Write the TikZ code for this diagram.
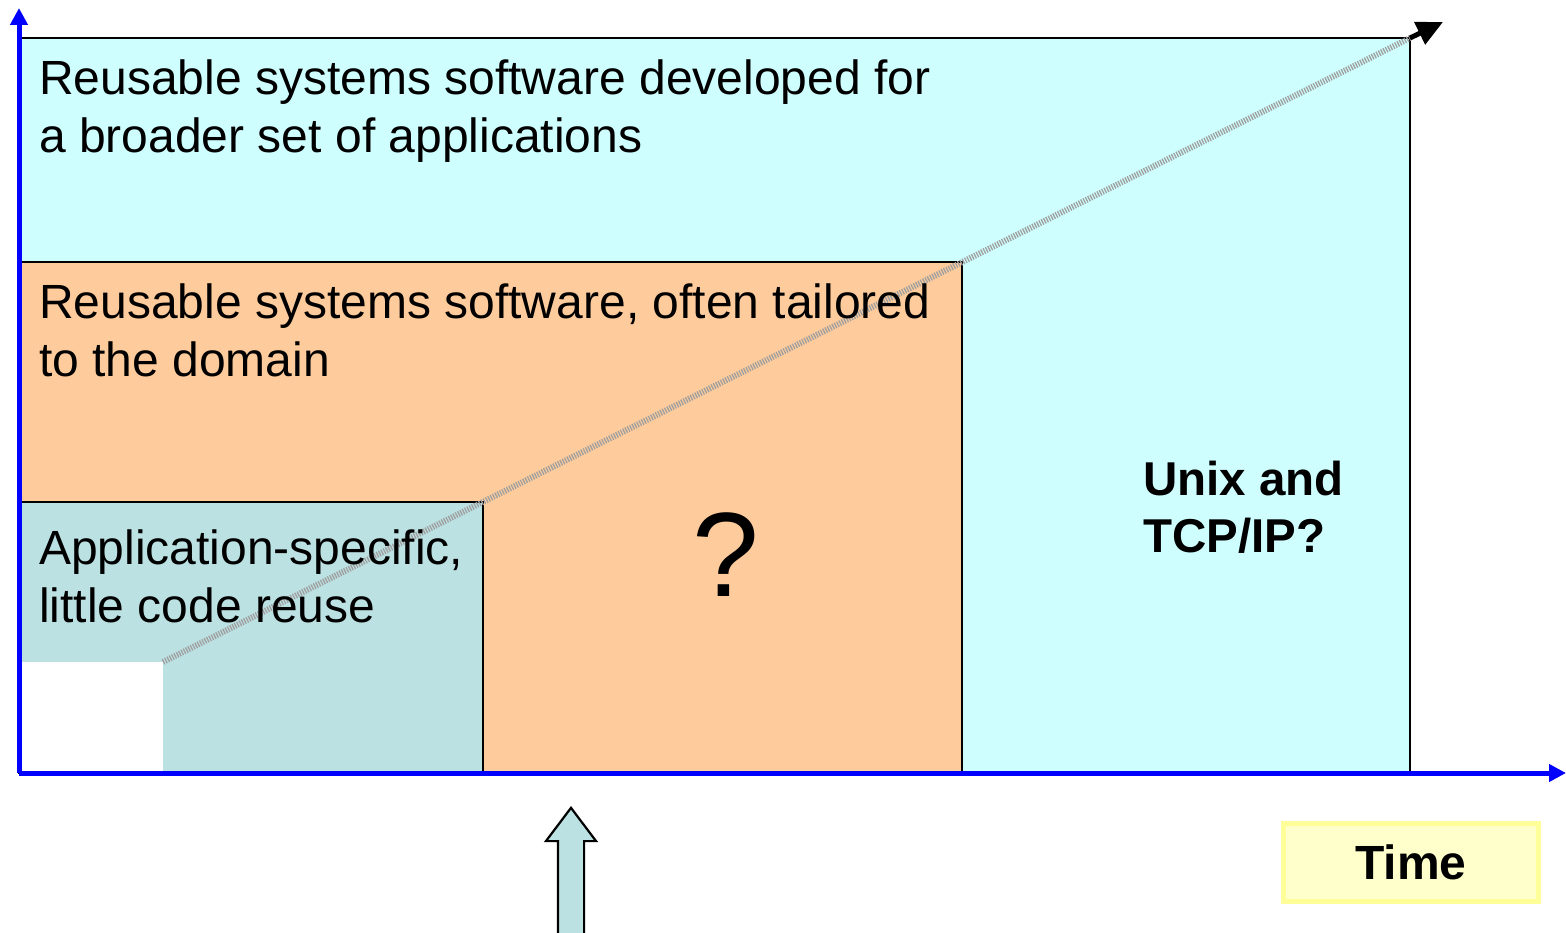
\documentclass[tikz,border=0pt]{standalone}
\usepackage{fontspec}
\setmainfont{Liberation Sans}
\usetikzlibrary{arrows.meta,shapes.arrows}
\definecolor{skyfill}{HTML}{CFFEFF}
\definecolor{peachfill}{HTML}{FECC9C}
\definecolor{tealfill}{HTML}{BCE1E3}
\definecolor{axisblue}{HTML}{0000FF}
\definecolor{timefill}{HTML}{FFFFCC}
\definecolor{timeedge}{HTML}{FFFF99}
\tikzset{
  era/.style={draw=black, line width=2.4pt},
  label/.style={anchor=base west, inner sep=0pt, align=left,
    font=\fontsize{48}{58}\selectfont},
  axis/.style={draw=axisblue, line width=5pt, -{Triangle[length=17pt,width=17pt]}},
  trend/.style={draw=gray!75, line width=6pt, dash pattern=on 1.3pt off 1.3pt},
}
\begin{document}
\begin{tikzpicture}[x=1pt,y=-1pt]
\useasboundingbox (0,0) rectangle (1566,933);

% three nested eras of reuse
\draw[era, fill=skyfill] (19,38) rectangle (1410,773);
\draw[era, fill=peachfill] (19,262) rectangle (962,773);
\draw[era, fill=tealfill] (19,502) rectangle (483,773);
\fill[white] (21,662) rectangle (163,771);

% growth of reuse over time
\coordinate (start) at (163,662);
\coordinate (mid) at (1410,38);
\coordinate (tip) at (1443,22);
\draw[trend] (start) -- (mid);
\draw[line width=5pt, -{Triangle[length=26pt,width=24pt]}] (mid) -- (tip);

% axes
\coordinate (origin) at (19,773);
\coordinate (ytop) at (19,8);
\coordinate (xend) at (1566,773);
\draw[axis] (origin) -- (ytop);
\draw[axis] (origin) -- (xend);

% labels
\node[label] (broad) at (39,153) {Reusable systems software developed for\\a broader set of applications};
\node[label] (domain) at (39,376) {Reusable systems software, often tailored\\to the domain};
\node[label] (app) at (39,622) {Application-specific,\\little code reuse};
\node[anchor=base, inner sep=0pt, font=\fontsize{120}{120}\selectfont] (q) at (726,596) {?};
\node[anchor=base west, inner sep=0pt, align=left, font=\fontsize{47.5}{57}\selectfont\bfseries] (unix) at (1143,552) {Unix and\\TCP/IP?};

% time legend
\node[draw=timeedge, line width=5pt, fill=timefill, minimum width=255pt, minimum height=78pt,
  font=\fontsize{48}{48}\selectfont\bfseries] (time) at (1411,862) {Time};

% pointer to the middle era
\node[single arrow, draw=black, line width=2.2pt, fill=tealfill, shape border rotate=90,
  inner xsep=12pt, inner ysep=0pt, single arrow head extend=12pt, single arrow tip angle=74,
  minimum height=140pt, anchor=tip] (ptr) at (571,806) {};
\end{tikzpicture}
\end{document}
